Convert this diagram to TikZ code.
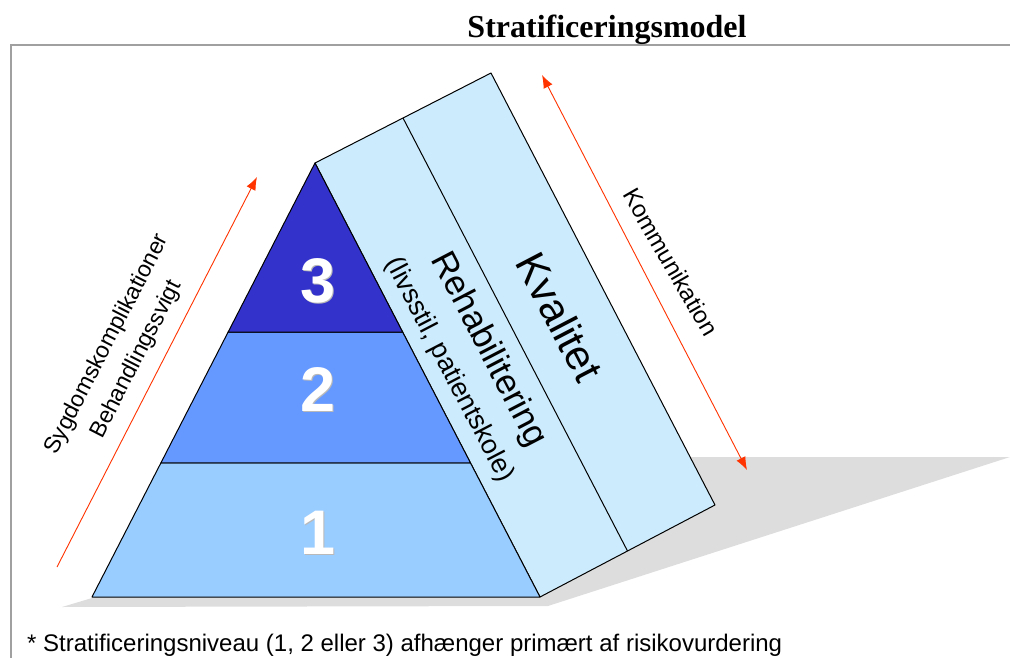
\documentclass[tikz,border=0pt]{standalone}
\usepackage{fontspec}
\setmainfont{Liberation Sans}
\newfontfamily\titlefont{Liberation Serif}
\usetikzlibrary{arrows.meta,calc}

\definecolor{levelone}{HTML}{99CCFF}
\definecolor{leveltwo}{HTML}{6699FF}
\definecolor{levelthree}{HTML}{3333CC}
\definecolor{prismfill}{HTML}{CCEBFC}
\definecolor{shadowgray}{HTML}{DDDDDD}
\definecolor{framegray}{HTML}{A0A0A0}
\definecolor{arrowred}{HTML}{FF3300}

\tikzset{
  outline/.style={draw=black, line width=1pt, line join=round},
  redarrow/.style={draw=arrowred, line width=0.9pt},
  redtip/.style={-{Latex[length=13pt,width=10pt]}},
  digit/.style={font=\bfseries\fontsize{63}{63}\selectfont, text=white, inner sep=0pt, anchor=base},
  digitshadow/.style={font=\bfseries\fontsize{63}{63}\selectfont, text=gray!55, inner sep=0pt, anchor=base},
  slanttext/.style={rotate=-62.5, inner sep=0pt},
}

\begin{document}
\begin{tikzpicture}[x=1pt,y=-1pt]
\useasboundingbox (0,0) rectangle (1010,658);

% page frame
\draw[framegray, line width=2pt] (11,658) -- (11,45) -- (1010,45);

% title
\node[font=\titlefont\bfseries\fontsize{32}{36}\selectfont, anchor=base, inner sep=0pt] (title) at (607,38) {Stratificeringsmodel};

% ground shadow
\fill[shadowgray] (62,607) -- (92,598) -- (690,457) -- (1010,457) -- (548,606) -- cycle;

% corner points of the pyramid and the prism
\coordinate (apex) at (315,163);
\coordinate (baseL) at (92,597);
\coordinate (baseR) at (540,597);
\coordinate (ridge) at (491,73);
\coordinate (backR) at (715,505);
\coordinate (l1L) at ($(baseL)!0.3088!(apex)$);
\coordinate (l1R) at ($(baseR)!0.3088!(apex)$);
\coordinate (l2L) at ($(baseL)!0.6106!(apex)$);
\coordinate (l2R) at ($(baseR)!0.6106!(apex)$);
\coordinate (midT) at ($(apex)!0.5!(ridge)$);
\coordinate (midB) at ($(baseR)!0.5!(backR)$);

% slanted side band
\draw[outline, fill=prismfill] (apex) -- (ridge) -- (backR) -- (baseR) -- cycle;
\draw[outline] (midT) -- (midB);

% pyramid levels
\draw[outline, fill=levelone] (baseL) -- (l1L) -- (l1R) -- (baseR) -- cycle;
\draw[outline, fill=leveltwo] (l1L) -- (l2L) -- (l2R) -- (l1R) -- cycle;
\draw[outline, fill=levelthree] (l2L) -- (apex) -- (l2R) -- cycle;

% level numbers
\node[digitshadow] (s3) at (319.5,303.5) {3};
\node[digit] (n3) at (318,302) {3};
\node[digitshadow] (s2) at (319.5,412.5) {2};
\node[digit] (n2) at (318,411) {2};
\node[digitshadow] (s1) at (319.5,555.5) {1};
\node[digit] (n1) at (318,554) {1};

% texts on the band
\node[slanttext, font=\fontsize{42}{48}\selectfont] (kval) at (560,317) {Kvalitet};
\node[slanttext, font=\fontsize{35}{40}\selectfont] (rehab) at (488,350) {Rehabilitering};
\node[slanttext, font=\fontsize{27}{30}\selectfont] (livs) at (449,370) {(livsstil, patientskole)};

% left arrow and its label
\coordinate (lefttail) at (57,567);
\coordinate (lefthead) at (257,177);
\draw[redarrow, redtip] (lefttail) -- (lefthead);
\node[rotate=62.8, align=center, inner sep=0pt, font=\fontsize{23}{33}\selectfont] (leftlabel) at (122,352) {Sygdomskomplikationer\\Behandlingssvigt};

% right arrow and its label
\coordinate (righttop) at (542,75);
\coordinate (rightbottom) at (747,470);
\draw[redarrow, {Latex[length=13pt,width=10pt]}-{Latex[length=13pt,width=10pt]}] (righttop) -- (rightbottom);
\node[rotate=-60, inner sep=0pt, font=\fontsize{24}{28}\selectfont] (komm) at (671,262) {Kommunikation};

% footnote
\node[anchor=base west, inner sep=0pt, font=\fontsize{24}{28}\selectfont] (note) at (27,651) {* Stratificeringsniveau (1, 2 eller 3) afhænger primært af risikovurdering};
\end{tikzpicture}
\end{document}
